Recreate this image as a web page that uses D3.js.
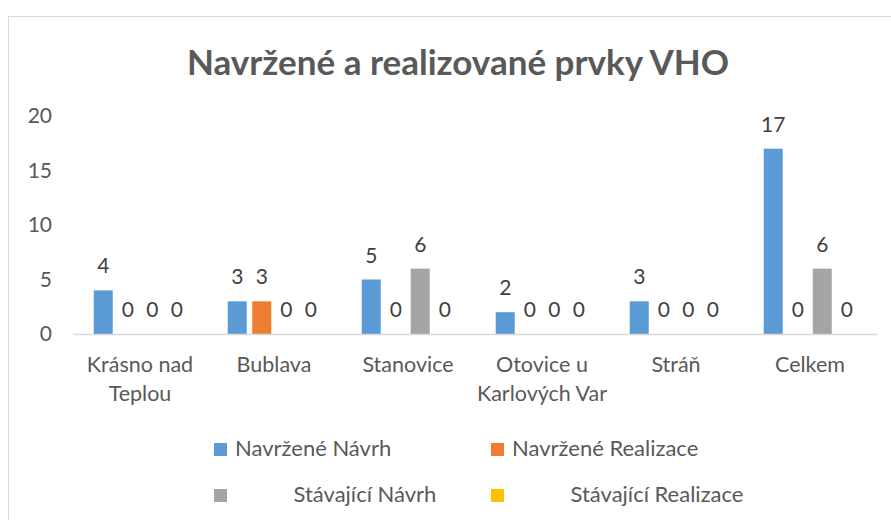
<!DOCTYPE html>
<html>
<head>
<meta charset="utf-8">
<script src="https://cdn.jsdelivr.net/npm/d3@7"></script>
<style>
  body { margin: 0; background: #fff; }
  svg { display: block; font-family: Lato, 'Open Sans', sans-serif; }
</style>
</head>
<body>
<div id="chart"></div>
<script>
// data
const categories = ['Krásno nad Teplou', 'Bublava', 'Stanovice', 'Otovice u Karlových Var', 'Stráň', 'Celkem'];
const categoryLines = [['Krásno nad', 'Teplou'], ['Bublava'], ['Stanovice'], ['Otovice u', 'Karlových Var'], ['Stráň'], ['Celkem']];
const seriesNames = ['Navržené Návrh', 'Navržené Realizace', 'Stávající Návrh', 'Stávající Realizace'];
const navrzeneNavrh = [4, 3, 5, 2, 3, 17];
const navrzeneRealizace = [0, 3, 0, 0, 0, 0];
const stavajiciNavrh = [0, 0, 6, 0, 0, 6];
const stavajiciRealizace = [0, 0, 0, 0, 0, 0];
const yTicks = [0, 5, 10, 15, 20];
const seriesColors = ['#5B9BD5', '#ED7D31', '#A5A5A5', '#FFC000'];

const seriesValues = [navrzeneNavrh, navrzeneRealizace, stavajiciNavrh, stavajiciRealizace];

const W = 891, H = 520;
const svg = d3.select('#chart').append('svg')
  .attr('width', W).attr('height', H);

// rámeček grafu
svg.append('rect')
  .attr('x', 8.5).attr('y', 16.5)
  .attr('width', W + 20).attr('height', H)
  .attr('fill', '#fff').attr('stroke', '#D9D9D9');

svg.append('text')
  .attr('x', 458).attr('y', 74.5)
  .attr('text-anchor', 'middle')
  .attr('font-size', 35).attr('font-weight', 'bold')
  .attr('fill', '#595959')
  .text('Navržené a realizované prvky VHO');

// scales
const x0 = d3.scaleBand().domain(categories).range([73, 877]);
const x1 = d3.scaleBand().domain(seriesNames).range([0, x0.bandwidth()])
  .paddingInner(0.224).paddingOuter(0.846);
const y = d3.scaleLinear().domain([0, 20]).range([334, 116]);

// osa y (jen popisky)
const yAxis = svg.append('g').attr('transform', 'translate(52,0)')
  .call(d3.axisLeft(y).tickValues(yTicks).tickSize(0).tickPadding(0));
yAxis.select('.domain').remove();
yAxis.selectAll('text')
  .attr('font-size', 21).attr('fill', '#595959')
  .attr('font-family', 'Lato, sans-serif');

// sloupce
const groups = svg.append('g').selectAll('g')
  .data(categories)
  .join('g')
  .attr('transform', d => `translate(${x0(d)},0)`);

const cells = groups.selectAll('g')
  .data((c, i) => seriesNames.map((s, j) => ({ s, j, v: seriesValues[j][i] })))
  .join('g');

cells.append('rect')
  .attr('x', d => x1(d.s))
  .attr('y', d => y(d.v))
  .attr('width', x1.bandwidth())
  .attr('height', d => y(0) - y(d.v))
  .attr('fill', d => seriesColors[d.j]);

cells.append('text')
  .attr('x', d => x1(d.s) + x1.bandwidth() / 2)
  .attr('y', d => y(d.v) - 17)
  .attr('text-anchor', 'middle')
  .attr('font-size', 21).attr('fill', '#404040')
  .text(d => d.v);

// osa x
const xAxis = svg.append('g').attr('transform', 'translate(0,334)')
  .call(d3.axisBottom(x0).tickSize(0).tickFormat(''));
xAxis.select('.domain').attr('stroke', '#D9D9D9').attr('stroke-width', 1.5);

svg.append('g').selectAll('text')
  .data(categories)
  .join('text')
  .attr('x', d => x0(d) + x0.bandwidth() / 2)
  .attr('y', 372)
  .attr('text-anchor', 'middle')
  .attr('font-size', 21.5).attr('fill', '#595959')
  .each(function (d, i) {
    d3.select(this).selectAll('tspan')
      .data(categoryLines[i])
      .join('tspan')
      .attr('x', x0(d) + x0.bandwidth() / 2)
      .attr('dy', (t, k) => k === 0 ? 0 : 29)
      .text(t => t);
  });

// legenda
const legend = svg.append('g').selectAll('g')
  .data(seriesNames)
  .join('g')
  .attr('transform', (d, i) => `translate(${i % 2 === 0 ? 214 : 491},${i < 2 ? 449.5 : 495.5})`);

legend.append('rect')
  .attr('x', 0).attr('y', -6.5)
  .attr('width', 13).attr('height', 13)
  .attr('fill', (d, i) => seriesColors[i]);

legend.append('text')
  .attr('x', (d, i) => i < 2 ? 21 : 79.5)
  .attr('y', 6.5)
  .attr('font-size', 22).attr('fill', '#595959')
  .text(d => d);
</script>
</body>
</html>
